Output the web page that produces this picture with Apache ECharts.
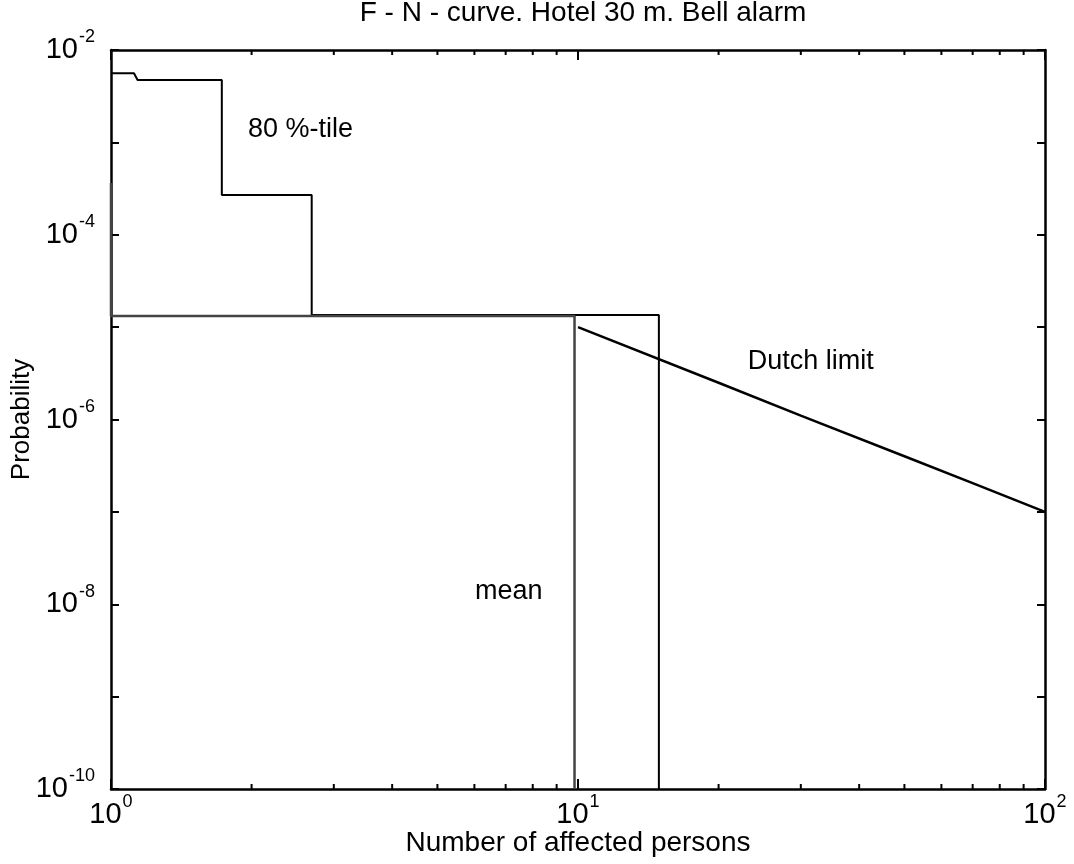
<!DOCTYPE html>
<html>
<head>
<meta charset="utf-8">
<script src="https://cdn.jsdelivr.net/npm/echarts@6/dist/echarts.min.js"></script>
<style>
  html, body { margin: 0; padding: 0; background: #fff; }
  #chart { width: 1074px; height: 864px; }
</style>
</head>
<body>
<div id="chart"></div>
<script>
  // 80 %-tile step curve (corner points)
  var p80N = [1, 1.12, 1.14, 1.727, 1.727, 2.69, 2.69, 14.9, 14.9];
  var p80F = [5.6e-3, 5.6e-3, 4.73e-3, 4.73e-3, 2.69e-4, 2.69e-4, 1.35e-5, 1.35e-5, 1e-10];
  // mean curve
  var meanN = [1, 1, 9.83, 9.83];
  var meanF = [3.63e-4, 1.32e-5, 1.32e-5, 1e-10];
  // Dutch limit
  var dutchN = [10, 20, 30, 50, 70, 100];
  var dutchF = [1e-5, 2.5e-6, 1.1e-6, 4e-7, 2.05e-7, 1e-7];
  // minor ticks on the x axis
  var minorX = [2, 3, 4, 5, 6, 7, 8, 9, 20, 30, 40, 50, 60, 70, 80, 90];
  // text labels inside the plot
  var notes = [
    { text: '80 %-tile', n: 1.965, f: 1.36e-3 },
    { text: 'Dutch limit', n: 23.1, f: 4.2e-6 },
    { text: 'mean', n: 6.02, f: 1.36e-8 }
  ];

  function pairs(xs, ys) {
    return xs.map(function (x, i) { return [x, ys[i]]; });
  }

  function powLabel(v) {
    var e = Math.round(Math.log10(v));
    if (e % 2 !== 0) return '';
    return '{b|10}{s|' + e + '}';
  }

  var font = 'Liberation Sans';

  // "10" with a raised exponent
  var rich = {
    b: { fontSize: 29, fontFamily: font, color: '#000', verticalAlign: 'bottom', padding: [7, 0, 0, 0] },
    s: { fontSize: 18, fontFamily: font, color: '#000', verticalAlign: 'top', padding: [0, 0, 0, 1] }
  };

  var myChart = echarts.init(document.getElementById('chart'));

  var axisLine = { show: true, lineStyle: { color: '#000', width: 2.5 } };

  var option = {
    animation: false,
    backgroundColor: '#fff',
    title: {
      text: 'F - N - curve. Hotel 30 m. Bell alarm',
      left: 578,
      top: -6,
      textAlign: 'center',
      textStyle: { fontFamily: font, fontWeight: 'normal', fontSize: 28, color: '#000' }
    },
    grid: { left: 111, top: 50, right: 29, bottom: 75, containLabel: false, outerBoundsMode: 'none' },
    xAxis: [
      {
        type: 'log', logBase: 10, min: 1, max: 100,
        name: 'Number of affected persons',
        nameLocation: 'middle', nameGap: 40, nameMoveOverlap: false,
        nameTextStyle: { fontFamily: font, fontSize: 28, color: '#000' },
        axisLine: axisLine,
        axisTick: { show: true, inside: true, length: 10, lineStyle: { color: '#000', width: 2 } },
        axisLabel: {
          formatter: function (v) { return '{b|10}{s|' + Math.round(Math.log10(v)) + '}'; },
          rich: rich, margin: 4
        },
        splitLine: { show: false }
      },
      {
        type: 'log', logBase: 10, min: 1, max: 100, position: 'top',
        axisLine: axisLine,
        axisTick: { show: true, inside: true, length: 10, lineStyle: { color: '#000', width: 2 } },
        axisLabel: { show: false },
        splitLine: { show: false }
      }
    ],
    yAxis: [
      {
        type: 'log', logBase: 10, min: 1e-10, max: 1e-2, interval: 1,
        name: 'Probability',
        nameLocation: 'middle', nameGap: 76, nameMoveOverlap: false,
        nameTextStyle: { fontFamily: font, fontSize: 26, color: '#000' },
        axisLine: axisLine,
        axisTick: { show: true, inside: true, length: 8, lineStyle: { color: '#000', width: 2 } },
        axisLabel: { formatter: powLabel, rich: rich, margin: 16, padding: [0, 0, 7, 0] },
        splitLine: { show: false }
      },
      {
        type: 'log', logBase: 10, min: 1e-10, max: 1e-2, interval: 1, position: 'right',
        axisLine: axisLine,
        axisTick: { show: true, inside: true, length: 8, lineStyle: { color: '#000', width: 2 } },
        axisLabel: { show: false },
        splitLine: { show: false }
      }
    ],
    series: [
      {
        name: '80 %-tile', type: 'line', data: pairs(p80N, p80F),
        showSymbol: false, clip: false,
        lineStyle: { color: '#000', width: 2 }
      },
      {
        name: 'mean', type: 'line', data: pairs(meanN, meanF),
        showSymbol: false, clip: false,
        lineStyle: { color: '#444', width: 2.5 }
      },
      {
        name: 'Dutch limit', type: 'line', data: pairs(dutchN, dutchF),
        showSymbol: false, clip: false,
        lineStyle: { color: '#000', width: 2.5 }
      },
      {
        // minor ticks at 2..9 and 20..90 on the bottom and top edges
        type: 'custom', silent: true, clip: false,
        data: minorX.map(function (x) { return [x]; }),
        renderItem: function (params, api) {
          var bot = api.coord([api.value(0), 1e-10]);
          var top = api.coord([api.value(0), 1e-2]);
          var st = { stroke: '#000', lineWidth: 2 };
          return {
            type: 'group',
            children: [
              { type: 'line', shape: { x1: bot[0], y1: bot[1], x2: bot[0], y2: bot[1] - 5 }, style: st },
              { type: 'line', shape: { x1: top[0], y1: top[1], x2: top[0], y2: top[1] + 5 }, style: st }
            ]
          };
        }
      },
      {
        // text notes placed in data coordinates
        type: 'custom', silent: true, clip: false,
        data: notes.map(function (d, i) { return [d.n, d.f, i]; }),
        renderItem: function (params, api) {
          var p = api.coord([api.value(0), api.value(1)]);
          return {
            type: 'text', x: p[0], y: p[1],
            style: {
              text: notes[api.value(2)].text,
              fill: '#000',
              font: '27px "Liberation Sans"',
              align: 'left', verticalAlign: 'middle'
            }
          };
        }
      }
    ]
  };

  myChart.setOption(option);
</script>
</body>
</html>
